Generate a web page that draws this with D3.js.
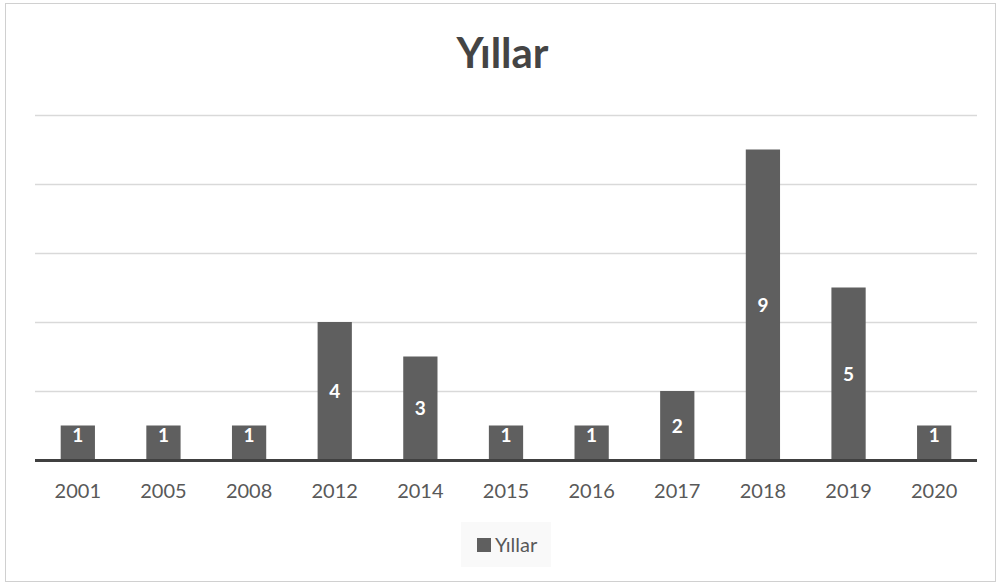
<!DOCTYPE html>
<html><head><meta charset="utf-8">
<script src="https://cdn.jsdelivr.net/npm/d3@7"></script>
<style>body{margin:0;background:#fff}svg{display:block}</style>
</head><body>
<script>
const categories = ["2001","2005","2008","2012","2014","2015","2016","2017","2018","2019","2020"];
const values = [1,1,1,4,3,1,1,2,9,5,1];
const yTicks = [0,2,4,6,8,10];
const seriesName = "Yıllar";
const title = "Yıllar";

const W = 997, H = 583;
const font = "Lato, 'Open Sans', sans-serif";
const svg = d3.select("body").append("svg").attr("width", W).attr("height", H);
svg.append("rect").attr("x",5.5).attr("y",3.5).attr("width",990).attr("height",578)
  .attr("fill","#fff").attr("stroke","#d0d0d0");

const x = d3.scaleBand().domain(categories).range([35,977]).paddingInner(0.6).paddingOuter(0.3);
const y = d3.scaleLinear().domain([0,10]).range([460,115]);

svg.append("text").attr("x",W/2+4).attr("y",68).attr("text-anchor","middle")
  .attr("font-family",font).attr("font-weight","bold").attr("font-size",42).attr("fill","#444").text(title);

svg.append("g").selectAll("line").data(yTicks.filter(d=>d>0)).join("line")
  .attr("x1",35).attr("x2",977).attr("y1",d=>y(d)+0.5).attr("y2",d=>y(d)+0.5)
  .attr("stroke","#d9d9d9").attr("stroke-width",1.5);

svg.append("g").selectAll("rect").data(values).join("rect")
  .attr("x",(d,i)=>x(categories[i])).attr("width",x.bandwidth())
  .attr("y",d=>y(d)).attr("height",d=>y(0)-y(d)).attr("fill","#5f5f5f");

svg.append("g").selectAll("text").data(values).join("text")
  .attr("x",(d,i)=>x(categories[i])+x.bandwidth()/2)
  .attr("y",d=> d===1 ? y(d)+16 : (y(d)+y(0))/2+7)
  .attr("text-anchor","middle").attr("font-family",font).attr("font-weight","bold")
  .attr("font-size",19).attr("fill","#fff").text(d=>d);

svg.append("line").attr("x1",35).attr("x2",977).attr("y1",460.5).attr("y2",460.5)
  .attr("stroke","#404040").attr("stroke-width",3);

const xAxis = svg.append("g").attr("transform","translate(0,460)")
  .call(d3.axisBottom(x).tickSize(0).tickPadding(24));
xAxis.select(".domain").remove();
xAxis.selectAll("text").attr("font-family",font).attr("font-size",20).attr("fill","#595959");

const lg = svg.append("g");
lg.append("rect").attr("x",461).attr("y",522).attr("width",90).attr("height",45).attr("fill","#f9f9f9");
lg.append("rect").attr("x",477).attr("y",538).attr("width",14).attr("height",14).attr("fill","#5f5f5f");
lg.append("text").attr("x",495).attr("y",552).attr("font-family",font).attr("font-size",20)
  .attr("fill","#595959").text(seriesName);
</script>
</body></html>
